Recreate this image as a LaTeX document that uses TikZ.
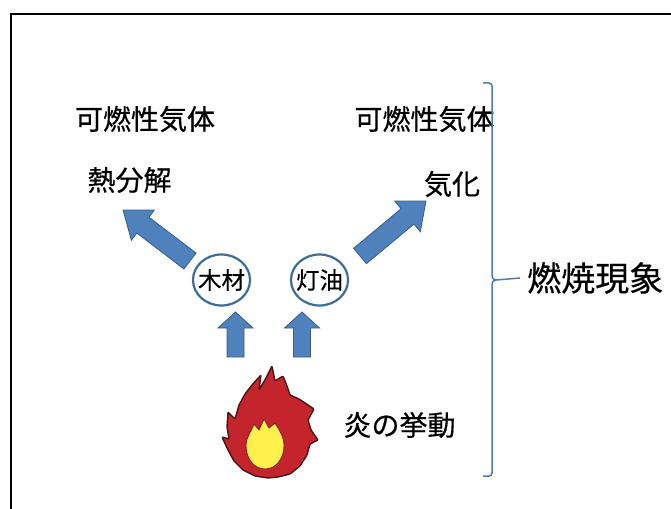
\documentclass[tikz,border=0pt]{standalone}
\usepackage{fontspec}
\setmainfont{Noto Sans CJK JP}[FakeBold=0.5]
\usetikzlibrary{calc}
\usetikzlibrary{positioning}
\usetikzlibrary{shapes.geometric}

\definecolor{arrowblue}{HTML}{4F81BD}
\definecolor{arrowedge}{HTML}{385D8A}
\definecolor{ringblue}{HTML}{3E6C98}
\definecolor{braceblue}{HTML}{4A7EBB}
\definecolor{flamered}{HTML}{C4242B}
\definecolor{flameedge}{HTML}{4B1414}
\definecolor{flameyellow}{HTML}{FFF04C}

\tikzset{
  jptext/.style={inner sep=0pt, font=\fontsize{28}{30}\selectfont},
  fuel/.style={ellipse, draw=ringblue, line width=2.2pt, fill=white,
    minimum width=57pt, minimum height=51pt, inner sep=0pt,
    font=\fontsize{23.5}{25}\selectfont},
  blockarr/.style={fill=arrowblue, draw=arrowedge, line width=0.8pt},
}

% block arrow from #1 to #2: shaft half width, head half width, head length
\newcommand\blockarrow[5]{%
  \draw [blockarr] let \p1=(#1), \p2=(#2),
    \n1={atan2(\y2-\y1,\x2-\x1)}, \n2={veclen(\x2-\x1,\y2-\y1)} in
    [shift={(\p1)}, rotate=\n1]
    (0,-#3) -- (\n2-#5,-#3) -- (\n2-#5,-#4) -- (\n2,0)
    -- (\n2-#5,#4) -- (\n2-#5,#3) -- (0,#3) -- cycle;}

\begin{document}
\begin{tikzpicture}[x=1pt, y=-1pt]
  \useasboundingbox (0,0) rectangle (671,508);
  \draw [line width=2pt] (11,14.5) rectangle (700,540);

  \node [jptext] (gasl) at (145,119) {可燃性気体};
  \node [jptext] (gasr) at (424.5,119) {可燃性気体};
  \node [jptext] (pyro) at (129.5,180) {熱分解};
  \node [jptext] (evap) at (452,184) {気化};
  \node [jptext] (flamelbl) at (399.5,425) {炎の挙動};
  \node [jptext, font=\fontsize{34}{36}\selectfont, inner xsep=7pt, anchor=west]
    (phen) at (520,278) {燃焼現象};

  \node [fuel] (wood) at (221.5,280) {\makebox[0pt]{木材}};
  \node [fuel] (oil) at (319.5,280) {\makebox[0pt]{灯油}};

  % arrows
  \coordinate (woodfoot) at (235.5,357);
  \coordinate (woodtip) at (235.5,312);
  \coordinate (oilfoot) at (302,357);
  \coordinate (oiltip) at (302,312);
  \coordinate (pyrofoot) at (190,261);
  \coordinate (pyrotip) at (123,210);
  \coordinate (evapfoot) at (360,256);
  \coordinate (evaptip) at (426,201);
  \blockarrow{woodfoot}{woodtip}{8.5}{17.5}{16}
  \blockarrow{oilfoot}{oiltip}{8.5}{17.5}{16}
  \blockarrow{pyrofoot}{pyrotip}{10}{19}{25}
  \blockarrow{evapfoot}{evaptip}{10}{20}{24}

  % brace
  \draw [braceblue, line width=1.5pt] (483,83) -- (489,83)
    to[out=0,in=90] (492,86) -- (492,276) to[out=-90,in=180] (496,280)
    -- (phen.west);
  \draw [braceblue, line width=1.5pt] (496,280) to[out=180,in=90] (492,284)
    -- (492,473) to[out=-90,in=0] (489,476) -- (483,476);

  % flame
  \draw [fill=flamered, draw=flameedge, line width=1.4pt, rounded corners=1pt]
    (268,478) -- (255,476) -- (243,470) -- (234,461) -- (228,450)
    -- (222,437) -- (229,439) -- (227,427) -- (228,412) -- (235,419)
    -- (239,405) -- (245,394) -- (252,385) -- (261,375) -- (259,390)
    -- (266,378) -- (272,366) -- (275,381) -- (283,376) -- (287,386)
    -- (290,395) -- (299,399) -- (314,409) -- (308,420) -- (311,430)
    -- (318,440) -- (310,444) -- (307,455) -- (300,466) -- (290,474)
    -- (278,477) -- cycle;
  \draw [fill=flameyellow, draw=flamered!70!black, line width=0.8pt]
    (265,469) to[out=180,in=-90] (246,446) to[out=90,in=-110] (254,424)
    -- (259,430) -- (264,419) -- (269,428) -- (275,423)
    to[out=-60,in=90] (284,446) to[out=-90,in=0] cycle;
\end{tikzpicture}
\end{document}
